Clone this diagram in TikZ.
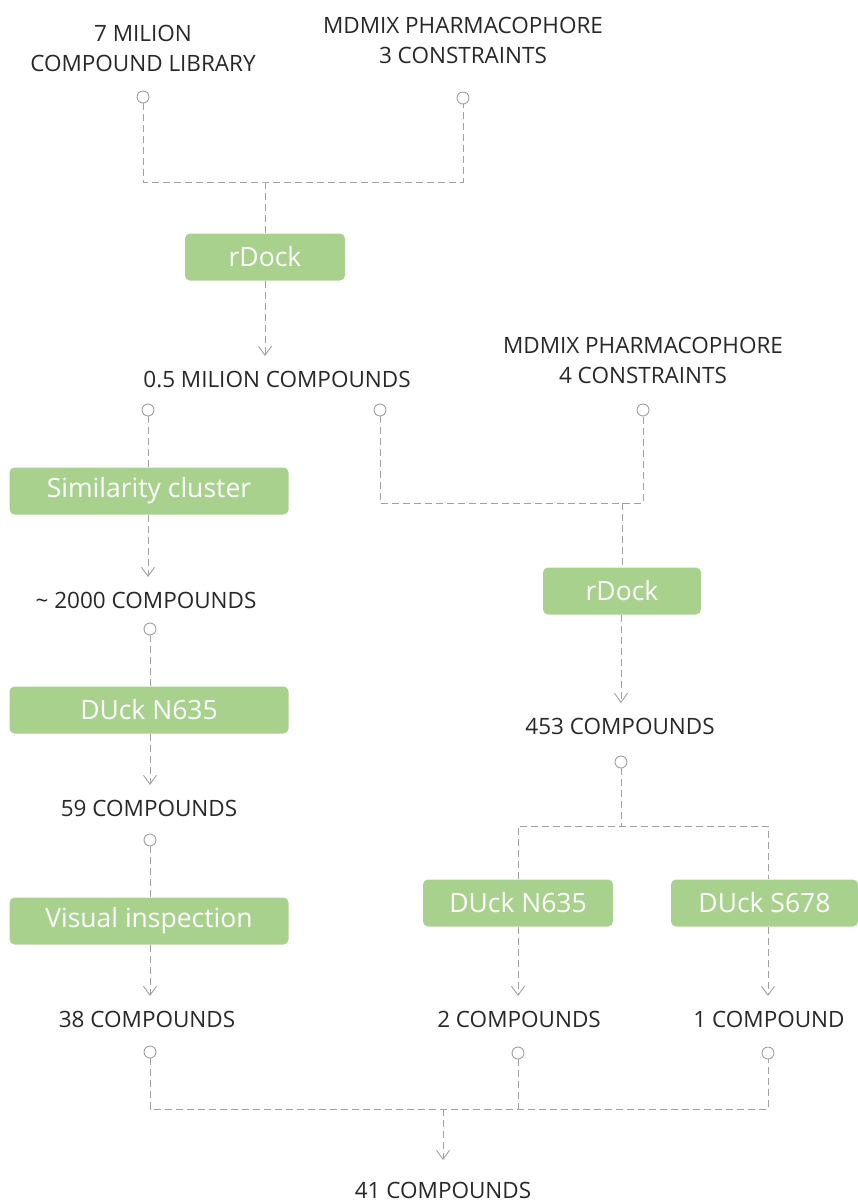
\documentclass[tikz,border=0pt]{standalone}
\usepackage{fontspec}
\setmainfont{Open Sans}
\usetikzlibrary{arrows.meta,positioning,calc}
\definecolor{leaf}{RGB}{169,209,142}
\definecolor{wire}{RGB}{160,160,160}
\definecolor{ink}{RGB}{40,40,40}

\begin{document}
\begin{tikzpicture}[x=1pt, y=-1pt,
  every node/.style={font=\fontsize{22.5}{30}\selectfont},
  tool/.style={fill=leaf, rounded corners=5pt, text=white, minimum height=47pt, inner sep=0pt, font=\fontsize{26.5}{30}\selectfont},
  count/.style={text=ink, text height=16pt, text depth=0pt, inner sep=0pt, outer sep=15pt},
  source/.style={text=ink, align=center, inner sep=0pt},
  dot/.style={circle, draw=wire, fill=white, line width=0.9pt, minimum size=12pt, inner sep=0pt},
  link/.style={draw=wire, line width=0.9pt, dash pattern=on 7pt off 4pt},
  flow/.style={link, -{Straight Barb[length=9pt, width=13pt]}}
]
\useasboundingbox (0,0) rectangle (858,1202);

% left branch
\node[source] (lib) at (143,48) {7 MILION\\COMPOUND LIBRARY};
\node[source] (ph3) at (463,40) {MDMIX PHARMACOPHORE\\3 CONSTRAINTS};
\node[dot] (lib-o) at (143,97) {};
\node[dot] (ph3-o) at (463,98) {};
\coordinate (j1) at (265,182);
\node[tool, minimum width=160pt] (dock1) at (265,257) {rDock};
\node[count] (half) at (277,379) {0.5 MILION COMPOUNDS};
\node[dot] (half-a) at (148,410) {};
\node[dot] (half-b) at (380,410) {};

\node[tool, minimum width=279pt] (sim) at (149,491) {Similarity cluster};
\node[count] (k2000) at (146,600) {\textasciitilde\ 2000 COMPOUNDS};
\node[dot] (k2000-o) at (150,629) {};
\node[tool, minimum width=279pt] (duck1) at (149,710) {DUck N635};
\node[count] (k59) at (149,808) {59 COMPOUNDS};
\node[dot] (k59-o) at (150,840) {};
\node[tool, minimum width=279pt] (vis) at (149,921) {Visual inspection};
\node[count] (k38) at (147,1019) {38 COMPOUNDS};
\node[dot] (k38-o) at (150,1052) {};

% right branch
\node[source] (ph4) at (643,360) {MDMIX PHARMACOPHORE\\4 CONSTRAINTS};
\node[dot] (ph4-o) at (643,410) {};
\coordinate (j2) at (622,503);
\node[tool, minimum width=158pt] (dock2) at (622,591) {rDock};
\node[count] (k453) at (620,726) {453 COMPOUNDS};
\node[dot] (k453-o) at (621,762) {};
\coordinate (j3) at (621,826);
\node[tool, minimum width=190pt] (duckN) at (518,903) {DUck N635};
\node[tool, minimum width=187pt] (duckS) at (764.5,903) {DUck S678};
\node[count] (k2) at (519,1019) {2 COMPOUNDS};
\node[count] (k1) at (769,1019) {1 COMPOUND};
\node[dot] (k2-o) at (518,1053) {};
\node[dot] (k1-o) at (768,1053) {};

% merge
\coordinate (j4) at (443,1109);
\node[count, outer sep=22pt] (k41) at (443,1190) {41 COMPOUNDS};

\draw[link] (lib-o) |- (j1) -| (ph3-o);
\draw[link] (j1) -- (dock1);
\draw[flow] (dock1) -- (dock1 |- half.north);

\draw[link] (half-a) -- (half-a |- sim.north);
\draw[flow] (sim.south -| half-a) -- (half-a |- k2000.north);
\draw[link] (k2000-o) -- (k2000-o |- duck1.north);
\draw[flow] (duck1.south -| k2000-o) -- (k2000-o |- k59.north);
\draw[link] (k59-o) -- (k59-o |- vis.north);
\draw[flow] (vis.south -| k59-o) -- (k59-o |- k38.north);

\draw[link] (half-b) |- (j2) -| (ph4-o);
\draw[link] (j2) -- (dock2);
\draw[flow] (dock2.south -| k453-o) -- (k453-o |- k453.north);
\draw[link] (k453-o) -- (j3);
\draw[link] (duckN.north -| k2-o) |- (j3) -| (duckS.north -| k1-o);
\draw[flow] (duckN.south -| k2-o) -- (k2-o |- k2.north);
\draw[flow] (duckS.south -| k1-o) -- (k1-o |- k1.north);

\draw[link] (k38-o) |- (j4) -| (k1-o);
\draw[link] (k2-o) -- (k2-o |- j4);
\draw[flow] (j4) -- (k41);
\end{tikzpicture}
\end{document}
